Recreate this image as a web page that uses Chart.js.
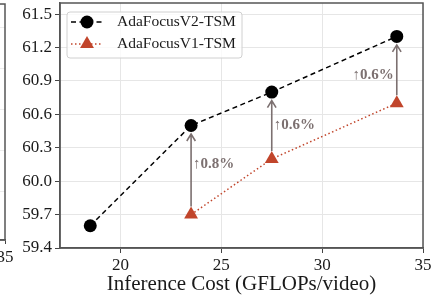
<!DOCTYPE html>
<html>
<head>
<meta charset="utf-8">
<script src="https://cdn.jsdelivr.net/npm/chart.js@4.4.1/dist/chart.umd.min.js"></script>
<style>
	html, body { margin: 0; padding: 0; background: #fff; }
	#wrap { position: relative; width: 443px; height: 297px; overflow: hidden; }
	#side { position: absolute; left: -95px; top: 0; }
	#main { position: absolute; left: 0; top: 0; }
</style>
</head>
<body>
<div id="wrap">
	<canvas id="side" width="115" height="297"></canvas>
	<canvas id="main" width="443" height="297"></canvas>
</div>
<script>
var v2Cost = [18.5, 23.5, 27.5, 33.7];
var v2Acc = [59.6, 60.5, 60.8, 61.3];
var v1Cost = [23.5, 27.5, 33.7];
var v1Acc = [59.7, 60.2, 60.7];
var gainText = ["↑0.8%", "↑0.6%", "↑0.6%"];
var gainAt = [60.15, 60.5, 60.95];
var gainSide = ["right", "right", "left"];
var seriesNames = ["AdaFocusV2-TSM", "AdaFocusV1-TSM"];
var xTicks = [20, 25, 30, 35];
var yTicks = [59.4, 59.7, 60.0, 60.3, 60.6, 60.9, 61.2, 61.5];
var xTitle = "Inference Cost (GFLOPs/video)";

var red = "#c1452b";
var arrowGray = "#7c7070";
var textColor = "#1a1a1a";
var serif = "'Liberation Serif', 'Times New Roman', serif";

function toPoints(xs, ys) {
	return xs.map(function(x, i) { return { x: x, y: ys[i] }; });
}

function drawMarker(ctx, style, x, y, r) {
	ctx.beginPath();
	if (style == "triangle") {
		ctx.moveTo(x, y - r);
		ctx.lineTo(x + r * Math.sin(Math.PI / 3), y + r / 2);
		ctx.lineTo(x - r * Math.sin(Math.PI / 3), y + r / 2);
		ctx.closePath();
	} else {
		ctx.arc(x, y, r, 0, Math.PI * 2);
	}
	ctx.fill();
}

// box round the plot, all four sides
var frame = {
	id: "frame",
	afterDraw: function(c) {
		var a = c.chartArea, ctx = c.ctx;
		ctx.save();
		ctx.strokeStyle = "#555";
		ctx.lineWidth = 1.5;
		ctx.strokeRect(a.left, a.top, a.right - a.left, a.bottom - a.top);
		ctx.restore();
	}
};

// gray arrows from V1 up to V2 with the gain text
var gains = {
	id: "gains",
	beforeDatasetsDraw: function(c) {
		var xs = c.scales.x, ys = c.scales.y, ctx = c.ctx;
		ctx.save();
		ctx.strokeStyle = arrowGray;
		ctx.fillStyle = arrowGray;
		ctx.lineWidth = 1.6;
		ctx.font = "bold 15px " + serif;
		ctx.textBaseline = "middle";
		for (var i = 0; i < v1Cost.length; i++) {
			var j = v2Cost.indexOf(v1Cost[i]);
			var x = xs.getPixelForValue(v1Cost[i]);
			var yLow = ys.getPixelForValue(v1Acc[i]) - 8;
			var yHigh = ys.getPixelForValue(v2Acc[j]) + 8.5;
			ctx.beginPath();
			ctx.moveTo(x, yLow);
			ctx.lineTo(x, yHigh);
			ctx.moveTo(x - 4.3, yHigh + 7);
			ctx.lineTo(x, yHigh);
			ctx.lineTo(x + 4.3, yHigh + 7);
			ctx.stroke();
			var ty = ys.getPixelForValue(gainAt[i]);
			if (gainSide[i] == "right") {
				ctx.textAlign = "left";
				ctx.fillText(gainText[i], x + 2, ty);
			} else {
				ctx.textAlign = "right";
				ctx.fillText(gainText[i], x - 3, ty);
			}
		}
		ctx.restore();
	}
};

// legend with line + marker samples, in a light box
var legendBox = {
	id: "legendBox",
	afterDatasetsDraw: function(c) {
		var ctx = c.ctx, a = c.chartArea;
		var left = a.left + 7, top = a.top + 9, w = 175, h = 46;
		ctx.save();
		ctx.fillStyle = "rgba(255,255,255,0.8)";
		ctx.strokeStyle = "#d0d0d0";
		ctx.lineWidth = 1;
		ctx.beginPath();
		ctx.roundRect(left, top, w, h, 3);
		ctx.fill();
		ctx.stroke();
		c.data.datasets.forEach(function(ds, i) {
			var y = top + 10 + i * 22;
			ctx.strokeStyle = ds.borderColor;
			ctx.lineWidth = ds.borderWidth;
			ctx.setLineDash(ds.borderDash || []);
			ctx.beginPath();
			ctx.moveTo(left + 4, y);
			ctx.lineTo(left + 36, y);
			ctx.stroke();
			ctx.setLineDash([]);
			ctx.fillStyle = ds.pointBackgroundColor;
			drawMarker(ctx, ds.pointStyle, left + 20, y, ds.pointRadius);
			ctx.fillStyle = textColor;
			ctx.font = "15.5px " + serif;
			ctx.textBaseline = "middle";
			ctx.textAlign = "left";
			ctx.fillText(ds.label, left + 50, y);
		});
		ctx.restore();
	}
};

// piece of the neighbouring panel on the left
new Chart(document.getElementById("side"), {
	type: "scatter",
	data: { datasets: [] },
	options: {
		animation: false,
		responsive: false,
		devicePixelRatio: 1,
		layout: { autoPadding: false, padding: { top: 4, right: 15, left: 0, bottom: 0 } },
		plugins: { legend: { display: false }, tooltip: { enabled: false } },
		scales: {
			x: {
				min: 34,
				max: 35,
				afterBuildTicks: function(s) { s.ticks = [{ value: 35 }]; },
				afterFit: function(s) { s.height = 57; },
				grid: { drawOnChartArea: false, tickLength: 4, tickColor: "#444" },
				border: { color: "#555", width: 1.5 },
				ticks: { font: { family: serif, size: 17 }, color: textColor, padding: 3 }
			},
			y: {
				min: -0.2,
				max: 5.58,
				afterFit: function(s) { s.width = 0; s.paddingTop = 0; s.paddingBottom = 0; },
				ticks: { display: false, stepSize: 1 },
				grid: { color: "#ececec", drawTicks: false },
				border: { display: false }
			}
		}
	},
	plugins: [frame]
});

new Chart(document.getElementById("main"), {
	type: "scatter",
	data: {
		datasets: [
			{
				label: seriesNames[0],
				data: toPoints(v2Cost, v2Acc),
				showLine: true,
				borderColor: "#000",
				backgroundColor: "#000",
				borderWidth: 1.5,
				borderDash: [5, 3.5],
				pointStyle: "circle",
				pointRadius: 6.5,
				pointBackgroundColor: "#000",
				pointBorderColor: "#000",
				pointBorderWidth: 0
			},
			{
				label: seriesNames[1],
				data: toPoints(v1Cost, v1Acc),
				showLine: true,
				borderColor: red,
				backgroundColor: red,
				borderWidth: 1.5,
				borderDash: [1.5, 2.5],
				pointStyle: "triangle",
				pointRadius: 8,
				pointBackgroundColor: red,
				pointBorderColor: red,
				pointBorderWidth: 0
			}
		]
	},
	options: {
		animation: false,
		responsive: false,
		devicePixelRatio: 1,
		layout: { autoPadding: false, padding: { top: 3, right: 20, left: 0, bottom: 0 } },
		plugins: { legend: { display: false }, tooltip: { enabled: false } },
		scales: {
			x: {
				min: 17,
				max: 35,
				afterBuildTicks: function(s) { s.ticks = xTicks.map(function(v) { return { value: v }; }); },
				afterFit: function(s) { s.height = 49; },
				grid: { color: "#e6e6e6", tickLength: 5, tickColor: "#444" },
				border: { color: "#555", width: 1.5 },
				ticks: { font: { family: serif, size: 17 }, color: textColor, padding: 2 },
				title: {
					display: true,
					text: xTitle,
					font: { family: serif, size: 21 },
					color: textColor,
					padding: { top: 0, bottom: 0 }
				}
			},
			y: {
				min: 59.4,
				max: 61.6,
				afterBuildTicks: function(s) { s.ticks = yTicks.map(function(v) { return { value: v }; }); },
				afterFit: function(s) { s.width = 60; s.paddingTop = 0; s.paddingBottom = 0; },
				grid: { color: "#e6e6e6", tickLength: 5, tickColor: "#444" },
				border: { color: "#555", width: 1.5 },
				ticks: {
					font: { family: serif, size: 17 },
					color: textColor,
					padding: 3,
					callback: function(v) { return v.toFixed(1); }
				}
			}
		}
	},
	plugins: [gains, legendBox, frame]
});
</script>
</body>
</html>
